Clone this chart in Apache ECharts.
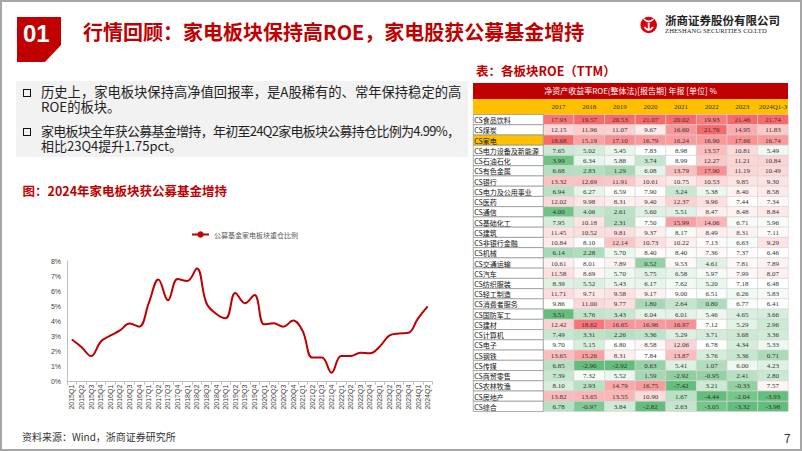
<!DOCTYPE html>
<html><head><meta charset="utf-8">
<script src="https://cdn.jsdelivr.net/npm/echarts@6/dist/echarts.min.js"></script>
<style>
body{margin:0;width:802px;height:451px;overflow:hidden;background:#fff;font-family:"Noto Sans CJK SC","Noto Sans",sans-serif;}
.abs{position:absolute;white-space:nowrap;}
.bul{position:absolute;width:6px;height:6px;border:1.6px solid #111;}
.bt{position:absolute;white-space:nowrap;left:41px;line-height:14px;color:#222;}
</style></head><body>
<div class="abs" style="left:0;top:0;width:798px;height:447px;border:2px solid #a6a6a6;"></div>
<div class="abs" style="left:16px;top:81px;width:452px;height:76px;background:#f2f2f2;"></div>
<div class="abs" style="left:473px;top:82.5px;width:315px;height:16.5px;background:#C00000;"></div>
<div class="abs" style="left:473px;top:99px;width:315px;height:15.5px;background:#FFC000;"></div>
<div id="chart" class="abs" style="left:0;top:0;width:802px;height:451px;"></div>

<svg class="abs" style="left:0;top:0" width="802" height="70">
  <polygon points="17,17 61,17 61,45 45,62 17,62" fill="#C00000"/>
  <text x="23" y="41.5" font-family="Liberation Sans" font-weight="bold" font-size="24" fill="#fff">01</text>
  <circle cx="648.7" cy="25" r="8.3" fill="#D7000F"/>
  <path d="M644 19 Q648.7 24 653.4 19 M648.7 23 L648.7 31 M644.5 27 Q648.7 33 653 27" stroke="#fff" stroke-width="1.8" fill="none"/>
</svg>
<div class="abs" style="left:83px;top:18px;font-size:20px;line-height:28px;font-weight:bold;color:#C00000;">行情回顾：家电板块保持高ROE，家电股获公募基金增持</div>
<div class="abs" style="left:665px;top:12px;font-size:11.5px;line-height:16px;font-weight:bold;color:#222;">浙商证券股份有限公司</div>
<div class="abs" style="left:665px;top:26px;font-size:6.6px;line-height:9px;font-family:'Liberation Serif';color:#222;letter-spacing:0.1px;">ZHESHANG SECURITIES CO.LTD</div>

<div class="bul" style="left:23px;top:88.5px;"></div>
<div class="bul" style="left:23px;top:127.5px;"></div>
<div class="bt" style="top:85.3px;font-size:13.3px;">历史上，家电板块保持高净值回报率，是A股稀有的、常年保持稳定的高</div>
<div class="bt" style="top:99.9px;font-size:13.3px;">ROE的板块。</div>
<div class="bt" style="top:124px;font-size:13px;letter-spacing:-0.72px;">家电板块全年获公募基金增持，年初至24Q2家电板块公募持仓比例为4.99%，</div>
<div class="bt" style="top:139.2px;font-size:13px;">相比23Q4提升1.75pct。</div>

<div class="abs" style="left:22.5px;top:182px;font-size:12.5px;line-height:18px;font-weight:bold;color:#C00000;">图：2024年家电板块获公募基金增持</div>
<div class="abs" style="left:476px;top:62px;font-size:12.5px;line-height:18px;font-weight:bold;color:#C00000;">表：各板块ROE（TTM）</div>
<div class="abs" style="left:473px;top:82.5px;width:315px;text-align:center;font-size:8px;line-height:16.5px;color:#fff;">净资产收益率ROE(整体法)[报告期] 年报 [单位] %</div>

<div class="abs" style="left:22px;top:429px;font-size:10px;line-height:16px;color:#333;">资料来源：Wind，浙商证券研究所</div>
<div class="abs" style="left:784px;top:429px;font-size:12px;line-height:18px;color:#333;">7</div>

<script>
// ---- line chart data ----
var quarters = ['2015Q1','2015Q2','2015Q3','2015Q4','2016Q1','2016Q2','2016Q3','2016Q4',
  '2017Q1','2017Q2','2017Q3','2017Q4','2018Q1','2018Q2','2018Q3','2018Q4',
  '2019Q1','2019Q2','2019Q3','2019Q4','2020Q1','2020Q2','2020Q3','2020Q4',
  '2021Q1','2021Q2','2021Q3','2021Q4','2022Q1','2022Q2','2022Q3','2022Q4',
  '2023Q1','2023Q2','2023Q3','2023Q4','2024Q1','2024Q2'];
var fundShare = [2.8,2.3,1.7,2.65, 3.05,3.4,3.85,3.65, 5.2,6.78,5.4,6.8, 6.67,7.5,5.2,4.5,
  4.2,5.88,5.2,5.75, 3.8,3.87,3.65,4.05, 3.36,1.6,1.6,0.6, 1.7,1.7,1.92,1.88,
  2.32,3.05,3.2,3.24, 4.2,4.99];
var seriesName = '公募基金家电板块重仓比例';

// ---- table data ----
var years = ['2017','2018','2019','2020','2021','2022','2023','2024Q1-3'];
var sectors = ['CS食品饮料','CS煤炭','CS家电','CS电力设备及新能源','CS石油石化','CS有色金属','CS银行',
  'CS电力及公用事业','CS医药','CS通信','CS基础化工','CS建筑','CS非银行金融','CS机械','CS交通运输',
  'CS汽车','CS纺织服装','CS轻工制造','CS消费者服务','CS国防军工','CS建材','CS计算机','CS电子',
  'CS钢铁','CS传媒','CS商贸零售','CS农林牧渔','CS房地产','CS综合'];
var roe2017 = [17.93,12.15,18.68,7.65,3.99,6.68,13.32,6.94,12.02,4.00,7.95,11.45,10.84,6.14,10.61,11.58,8.39,11.71,9.86,3.51,12.42,7.49,9.70,13.65,6.85,7.39,8.10,13.82,6.78];
var roe2018 = [19.57,11.96,15.19,5.02,6.34,2.83,12.69,6.27,9.98,4.06,10.18,10.52,8.10,2.28,8.01,8.69,5.52,9.71,11.00,3.76,18.62,3.31,5.15,15.26,-2.90,7.32,2.93,13.65,-0.97];
var roe2019 = [20.53,11.07,17.10,5.45,5.88,1.29,11.91,6.59,8.31,2.61,2.31,9.81,12.14,5.70,7.89,5.70,5.43,9.58,9.77,3.43,16.65,2.26,6.80,8.31,-2.92,5.52,14.79,13.55,3.84];
var roe2020 = [21.07,9.67,16.79,7.83,3.74,6.08,10.61,7.90,9.40,5.60,7.50,9.37,10.73,8.40,0.52,5.75,6.17,9.17,1.80,6.04,16.96,3.36,8.58,7.84,0.63,1.59,16.75,10.90,-2.82];
var roe2021 = [20.02,16.60,16.24,8.98,8.99,13.79,10.75,3.24,12.37,5.51,15.99,8.17,10.22,8.40,9.53,6.58,7.62,9.00,2.64,6.01,16.97,5.29,12.06,13.87,5.41,-2.92,-7.42,1.67,2.63];
var roe2022 = [19.93,21.76,16.90,13.57,12.27,17.90,10.53,5.38,9.96,8.47,14.06,8.49,7.13,7.36,4.61,5.97,5.20,6.51,0.80,5.46,7.12,3.71,6.78,3.76,1.07,-0.95,3.21,-4.44,-3.05];
var roe2023 = [21.46,14.95,17.66,10.81,11.21,11.19,9.85,8.40,7.44,8.48,6.71,8.31,6.63,7.37,7.81,7.99,7.18,6.26,6.77,4.65,5.29,3.68,4.34,3.36,6.00,2.41,-0.33,-2.04,-3.32];
var roe2024 = [21.74,11.83,16.74,5.49,10.84,10.49,9.30,8.58,7.34,8.84,5.96,7.11,9.29,6.46,7.89,8.07,6.48,5.83,6.41,3.66,2.96,3.36,5.33,0.71,4.23,2.80,7.57,-3.93,-3.98];
var highlightSector = 'CS家电';

var columns = [roe2017,roe2018,roe2019,roe2020,roe2021,roe2022,roe2023,roe2024];

// Excel-like 3-colour scale per column: min green, median white, max red
var GREEN=[99,190,123], WHITE=[255,255,255], RED=[248,105,107];
function median(a){var s=a.slice().sort(function(x,y){return x-y;});var n=s.length;var p=(n-1)*0.5;var lo=Math.floor(p),hi=Math.ceil(p);return s[lo]+(s[hi]-s[lo])*(p-lo);}
function mix(c1,c2,t){return 'rgb('+[0,1,2].map(function(i){return Math.round(c1[i]+(c2[i]-c1[i])*t);}).join(',')+')';}
var cellData=[], cellColors=[];
columns.forEach(function(col,ci){
  var mn=Math.min.apply(null,col), mx=Math.max.apply(null,col), md=median(col);
  col.forEach(function(v,ri){
    var c;
    if(v>=md){c=mix(WHITE,RED,(v-md)/(mx-md));}else{c=mix(WHITE,GREEN,(md-v)/(md-mn));}
    cellData.push([ci,ri,v]); cellColors.push(c);
  });
});
var nameData = sectors.map(function(s,i){return [0,i,0];});

var chart = echarts.init(document.getElementById('chart'), null, {renderer:'svg'});
chart.setOption({
  backgroundColor:'transparent',
  animation:false,
  legend:{data:[seriesName], top:226, left:186, itemWidth:17, itemHeight:8, itemGap:3,
    textStyle:{fontSize:7, color:'#595959', fontFamily:'Noto Sans CJK SC'}},
  grid:[
    {left:67, top:261, width:365.5, height:120.7},
    {left:543.3, top:114.5, width:245, height:297},
    {left:473.3, top:114.5, width:70, height:297}
  ],
  xAxis:[
    {gridIndex:0, type:'category', data:quarters, boundaryGap:true,
      axisLine:{lineStyle:{color:'#bfbfbf', width:1}}, axisTick:{show:true, length:3, lineStyle:{color:'#bfbfbf'}},
      axisLabel:{rotate:90, interval:0, fontSize:7, color:'#404040', margin:3, fontFamily:'Liberation Sans'}},
    {gridIndex:1, type:'category', data:years, position:'top',
      axisLine:{show:false}, axisTick:{show:false},
      axisLabel:{interval:0, fontSize:7, color:'#333', margin:4.5, fontFamily:'Liberation Serif'}},
    {gridIndex:2, type:'category', data:['name'], show:false}
  ],
  yAxis:[
    {gridIndex:0, type:'value', min:0, max:8, interval:1,
      axisLine:{show:true, lineStyle:{color:'#bfbfbf'}}, axisTick:{show:false}, splitLine:{show:false},
      axisLabel:{formatter:'{value}%', fontSize:7, color:'#404040', margin:6, fontFamily:'Liberation Sans'}},
    {gridIndex:1, type:'category', data:sectors, inverse:true, show:false},
    {gridIndex:2, type:'category', data:sectors, inverse:true, show:false}
  ],
  series:[
    {name:seriesName, type:'line', xAxisIndex:0, yAxisIndex:0, data:fundShare, smooth:0.4,
      symbol:'none', lineStyle:{color:'#C00000', width:2}, itemStyle:{color:'#C00000'}},
    {type:'custom', xAxisIndex:1, yAxisIndex:1, data:cellData,
      renderItem:function(params, api){
        var c=api.coord([api.value(0),api.value(1)]); var s=api.size([1,1]);
        var v=api.value(2);
        return {type:'group', children:[
          {type:'rect', shape:{x:c[0]-s[0]/2, y:c[1]-s[1]/2, width:s[0], height:s[1]},
            style:{fill:cellColors[params.dataIndex], stroke:'#d4d4d4', lineWidth:0.6}},
          {type:'text', style:{text:v.toFixed(2), x:c[0], y:c[1]+0.5, align:'center', verticalAlign:'middle',
            fontSize:7, fontFamily:'Liberation Serif', fill:'#333'}}
        ]};
      }},
    {type:'custom', xAxisIndex:2, yAxisIndex:2, data:nameData,
      renderItem:function(params, api){
        var c=api.coord([0,api.value(1)]); var s=api.size([1,1]);
        var nm=sectors[params.dataIndex];
        return {type:'group', children:[
          {type:'rect', shape:{x:c[0]-s[0]/2, y:c[1]-s[1]/2, width:s[0], height:s[1]},
            style:{fill: nm===highlightSector?'#FFC000':'#ffffff', stroke:'#8c8c8c', lineWidth:0.7}},
          {type:'text', style:{text:nm, x:c[0]-s[0]/2+1, y:c[1]+0.5, align:'left', verticalAlign:'middle',
            fontSize:7, fontFamily:'Noto Sans CJK SC', fill:'#111'}}
        ]};
      }}
  ]
});
</script>
</body></html>
